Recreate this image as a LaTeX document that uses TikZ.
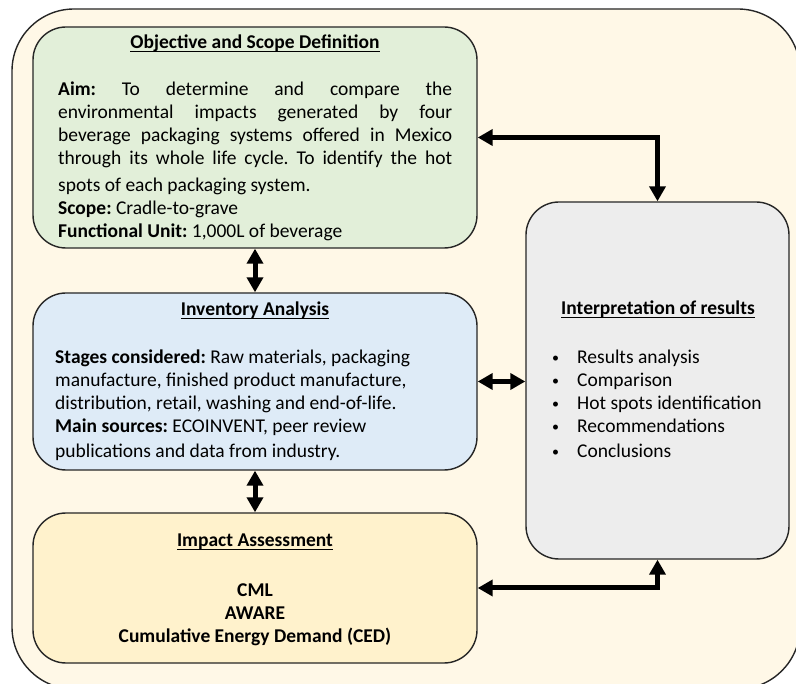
\documentclass[tikz,border=0pt]{standalone}
\usepackage{fontspec}
\setmainfont{Carlito}
\usetikzlibrary{arrows.meta}

\definecolor{framefill}{HTML}{FFF8E7}
\definecolor{goalfill}{HTML}{E2EFD9}
\definecolor{invfill}{HTML}{DEEBF7}
\definecolor{impfill}{HTML}{FFF2CC}
\definecolor{intfill}{HTML}{EDEDED}

% underline sitting just below the baseline, as word processors draw it
\newcommand{\ulbox}[1]{\setbox0\hbox{#1}\rlap{\rule[-3.5pt]{\wd0}{1.3pt}}\box0}
% one fully justified line
\newcommand{\jline}[1]{\makebox[394pt][s]{#1}}
% small list bullet with its hanging indent
\newcommand{\litem}{\makebox[25pt][l]{\raisebox{1pt}{\fontsize{14}{14}\selectfont\textbullet}}}

\begin{document}
\frenchspacing
\begin{tikzpicture}[x=1pt,y=-1pt,
  stage/.style={draw=black!85, line width=1.4pt, rounded corners=33pt, inner sep=0pt},
  txt/.style={font=\fontsize{19.5}{23}\selectfont, inner sep=0pt},
  title/.style={txt, anchor=base, font=\fontsize{19.5}{23}\selectfont\bfseries},
  link/.style={line width=5pt, {Triangle[width=16pt,length=15pt]}-{Triangle[width=16pt,length=15pt]}}
]
\useasboundingbox (0,0) rectangle (796,684);
\clip (0,0) rectangle (796,684);

% outer frame
\node[draw=black!85, line width=1.4pt, rounded corners=62pt, fill=framefill,
      minimum width=788pt, minimum height=680pt, inner sep=0pt] (frame) at (406,349) {};

% the four stages
\node[stage, fill=goalfill, minimum width=444pt, minimum height=221pt] (obj) at (255,137.5) {};
\node[stage, fill=invfill, minimum width=444pt, minimum height=177pt] (inv) at (255,381.5) {};
\node[stage, fill=impfill, minimum width=444pt, minimum height=150pt] (imp) at (255,588) {};
\node[stage, fill=intfill, minimum width=263pt, minimum height=357pt] (interp) at (657.5,380.5) {};

% connectors
\draw[link] (obj.south) -- (inv.north);
\draw[link] (inv.south) -- (imp.north);
\draw[link] (inv.east) -- (inv.east -| interp.west);
\draw[link] (obj.east) -| (interp.north);
\draw[link] (imp.east) -| (interp.south);

% objective and scope (multi-line blocks are placed by their last baseline)
\node[title] (objT) at (255,49) {\ulbox{Objective and Scope Definition}};
\node[txt, anchor=base west, align=left] (objB) at (58,238) {%
  \jline{\textbf{Aim:} To determine and compare the}\\
  \jline{environmental impacts generated by four}\\
  \jline{beverage packaging systems offered in Mexico}\\
  \jline{through its whole life cycle. To identify the hot}\\[4pt]
  spots of each packaging system.\\
  \textbf{Scope:} Cradle-to-grave\\
  \textbf{Functional Unit:} 1,000L of beverage};

% inventory analysis
\node[title] (invT) at (255,316) {\ulbox{Inventory Analysis}};
\node[txt, anchor=base west, align=left] (invB) at (55,458) {%
  \textbf{Stages considered:} Raw materials, packaging\\
  manufacture, finished product manufacture,\\
  distribution, retail, washing and end-of-life.\\
  \textbf{Main sources:} ECOINVENT, peer review\\[2pt]
  publications and data from industry.};

% impact assessment
\node[title] (impT) at (255,547) {\ulbox{Impact Assessment}};
\node[title, align=center] (impB) at (255,642) {CML\\AWARE\\Cumulative Energy Demand (CED)};

% interpretation
\node[title] (intT) at (658,315) {\ulbox{Interpretation of results}};
\node[txt, anchor=base west, align=left] (intB) at (552,458) {%
  \litem Results analysis\\
  \litem Comparison\\
  \litem Hot spots identification\\
  \litem Recommendations\\[2pt]
  \litem Conclusions};
\end{tikzpicture}
\end{document}
